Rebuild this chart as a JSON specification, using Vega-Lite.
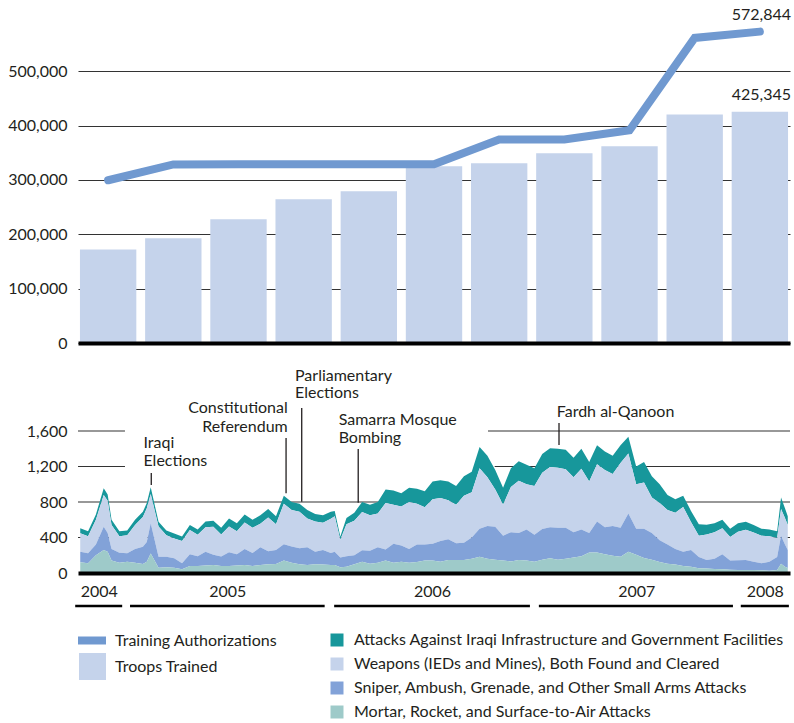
{
  "$schema": "https://vega.github.io/schema/vega-lite/v6.json",
  "padding": {"left": 5, "top": 6, "right": 2, "bottom": 2},
  "background": "white",
  "config": {
    "font": "Lato",
    "view": {"stroke": null},
    "axis": {"labelFont": "Lato", "labelColor": "#231f20", "labelFontSize": 16},
    "legend": {"labelFont": "Lato", "labelColor": "#231f20", "labelFontSize": 16},
    "text": {"font": "Lato", "fontSize": 16, "color": "#231f20"}
  },
  "spacing": 9,
  "vconcat": [
    {
      "width": 712,
      "height": 337,
      "data": {
        "values": [
          {"period": "P1", "troops": 171900, "authorized": 299400},
          {"period": "P2", "troops": 192700, "authorized": 328500},
          {"period": "P3", "troops": 227600, "authorized": 328900},
          {"period": "P4", "troops": 264300, "authorized": 328900},
          {"period": "P5", "troops": 279200, "authorized": 328700},
          {"period": "P6", "troops": 325200, "authorized": 328900},
          {"period": "P7", "troops": 330700, "authorized": 374300},
          {"period": "P8", "troops": 349100, "authorized": 374300},
          {"period": "P9", "troops": 362000, "authorized": 391400},
          {"period": "P10", "troops": 420300, "authorized": 561300},
          {"period": "P11", "troops": 425345, "authorized": 572844}
        ]
      },
      "encoding": {
        "x": {
          "field": "period", "type": "ordinal", "sort": null, "title": null,
          "scale": {"paddingInner": 0.135, "paddingOuter": 0.03},
          "axis": {"title": null, "labels": false, "ticks": false, "tickSize": 0, "grid": false, "domainColor": "#000000", "domainWidth": 4, "zindex": 1}
        }
      },
      "layer": [
        {
          "mark": {"type": "bar"},
          "encoding": {
            "y": {
              "field": "troops", "type": "quantitative", "title": null,
              "scale": {"domain": [0, 620000], "nice": false},
              "axis": {"title": null, "values": [0, 100000, 200000, 300000, 400000, 500000], "labelExpr": "format(datum.value, ',')", "grid": true, "gridColor": "#333333", "gridWidth": 1.2, "domain": false, "ticks": false, "tickSize": 0, "labelPadding": 11, "minExtent": 73, "maxExtent": 73}
            },
            "fill": {
              "datum": "Troops Trained",
              "scale": {"range": ["#c5d3eb"]},
              "legend": {"title": null, "orient": "none", "legendX": 1, "legendY": 647, "symbolType": "square", "symbolSize": 729, "symbolStrokeWidth": 0, "labelOffset": 9, "labelLimit": 0, "padding": 0}
            }
          }
        },
        {
          "mark": {"type": "line", "strokeWidth": 8, "strokeCap": "round", "strokeJoin": "miter"},
          "encoding": {
            "y": {"field": "authorized", "type": "quantitative", "title": null},
            "stroke": {
              "datum": "Training Authorizations",
              "scale": {"range": ["#7099d0"]},
              "legend": {"title": null, "orient": "none", "legendX": -4, "legendY": 616.5, "symbolType": "stroke", "symbolSize": 784, "symbolStrokeWidth": 8, "labelOffset": 5, "labelLimit": 0, "padding": 0}
            }
          }
        },
        {
          "transform": [{"filter": {"field": "period", "equal": "P11"}}],
          "mark": {"type": "text", "align": "right", "baseline": "middle", "dx": 3, "dy": -17},
          "encoding": {
            "x": {"field": "period", "type": "ordinal", "sort": null, "title": null, "bandPosition": 1},
            "y": {"field": "authorized", "type": "quantitative", "title": null},
            "text": {"field": "authorized", "type": "quantitative", "format": ","}
          }
        },
        {
          "transform": [{"filter": {"field": "period", "equal": "P11"}}],
          "mark": {"type": "text", "align": "right", "baseline": "middle", "dx": 3, "dy": -17},
          "encoding": {
            "x": {"field": "period", "type": "ordinal", "sort": null, "title": null, "bandPosition": 1},
            "y": {"field": "troops", "type": "quantitative", "title": null},
            "text": {"field": "troops", "type": "quantitative", "format": ","}
          }
        }
      ]
    },
    {
      "width": 712,
      "height": 213,
      "layer": [
        {
          "data": {
            "values": [
              {"v": 1600, "from": "2004-10-09", "to": "2005-01-01"},
              {"v": 1600, "from": "2006-10-12", "to": "2008-04-04"},
              {"v": 1200, "from": "2004-10-09", "to": "2005-01-01"},
              {"v": 1200, "from": "2006-10-24", "to": "2008-04-04"},
              {"v": 800, "from": "2004-10-09", "to": "2008-04-04"},
              {"v": 400, "from": "2004-10-09", "to": "2008-04-04"}
            ]
          },
          "mark": {"type": "rule", "color": "#333333", "strokeWidth": 1.2},
          "encoding": {
            "x": {"field": "from", "type": "temporal", "title": null},
            "x2": {"field": "to"},
            "y": {"field": "v", "type": "quantitative", "title": null}
          }
        },
        {
          "data": {
            "values": [
              {"d": "2004-10-13", "k1": 56, "k2": 207, "k3": 120, "k4": 120},
              {"d": "2004-10-27", "k1": 55, "k2": 193, "k3": 113, "k4": 109},
              {"d": "2004-11-10", "k1": 60, "k2": 280, "k3": 120, "k4": 200},
              {"d": "2004-11-24", "k1": 75, "k2": 357, "k3": 263, "k4": 259},
              {"d": "2004-12-01", "k1": 70, "k2": 365, "k3": 210, "k4": 240},
              {"d": "2004-12-08", "k1": 60, "k2": 270, "k3": 130, "k4": 140},
              {"d": "2004-12-22", "k1": 55, "k2": 186, "k3": 113, "k4": 116},
              {"d": "2005-01-05", "k1": 55, "k2": 203, "k3": 94, "k4": 128},
              {"d": "2005-01-19", "k1": 60, "k2": 270, "k3": 155, "k4": 115},
              {"d": "2005-02-02", "k1": 60, "k2": 333, "k3": 196, "k4": 101},
              {"d": "2005-02-09", "k1": 60, "k2": 380, "k3": 222, "k4": 128},
              {"d": "2005-02-16", "k1": 75, "k2": 330, "k3": 340, "k4": 220},
              {"d": "2005-03-02", "k1": 55, "k2": 339, "k3": 124, "k4": 60},
              {"d": "2005-03-16", "k1": 55, "k2": 241, "k3": 119, "k4": 65},
              {"d": "2005-03-30", "k1": 55, "k2": 225, "k3": 105, "k4": 60},
              {"d": "2005-04-13", "k1": 50, "k2": 250, "k3": 69, "k4": 41},
              {"d": "2005-04-27", "k1": 55, "k2": 275, "k3": 131, "k4": 79},
              {"d": "2005-05-11", "k1": 60, "k2": 240, "k3": 111, "k4": 79},
              {"d": "2005-05-25", "k1": 65, "k2": 275, "k3": 155, "k4": 85},
              {"d": "2005-06-08", "k1": 70, "k2": 315, "k3": 115, "k4": 90},
              {"d": "2005-06-22", "k1": 75, "k2": 250, "k3": 105, "k4": 80},
              {"d": "2005-07-06", "k1": 90, "k2": 290, "k3": 156, "k4": 79},
              {"d": "2005-07-20", "k1": 90, "k2": 260, "k3": 125, "k4": 85},
              {"d": "2005-08-03", "k1": 90, "k2": 300, "k3": 180, "k4": 90},
              {"d": "2005-08-17", "k1": 90, "k2": 285, "k3": 146, "k4": 79},
              {"d": "2005-08-31", "k1": 95, "k2": 265, "k3": 200, "k4": 90},
              {"d": "2005-09-14", "k1": 95, "k2": 380, "k3": 145, "k4": 100},
              {"d": "2005-09-28", "k1": 90, "k2": 290, "k3": 159, "k4": 101},
              {"d": "2005-10-12", "k1": 90, "k2": 455, "k3": 185, "k4": 140},
              {"d": "2005-10-26", "k1": 90, "k2": 410, "k3": 185, "k4": 115},
              {"d": "2005-11-09", "k1": 90, "k2": 410, "k3": 180, "k4": 100},
              {"d": "2005-11-23", "k1": 95, "k2": 325, "k3": 200, "k4": 90},
              {"d": "2005-12-07", "k1": 85, "k2": 340, "k3": 140, "k4": 100},
              {"d": "2005-12-21", "k1": 85, "k2": 305, "k3": 165, "k4": 95},
              {"d": "2006-01-04", "k1": 80, "k2": 386, "k3": 135, "k4": 90},
              {"d": "2006-01-11", "k1": 60, "k2": 400, "k3": 150, "k4": 90},
              {"d": "2006-01-21", "k1": 35, "k2": 200, "k3": 110, "k4": 65},
              {"d": "2006-02-01", "k1": 70, "k2": 360, "k3": 120, "k4": 70},
              {"d": "2006-02-15", "k1": 90, "k2": 390, "k3": 100, "k4": 100},
              {"d": "2006-03-01", "k1": 113, "k2": 432, "k3": 127, "k4": 128},
              {"d": "2006-03-15", "k1": 120, "k2": 400, "k3": 145, "k4": 105},
              {"d": "2006-03-29", "k1": 130, "k2": 380, "k3": 175, "k4": 115},
              {"d": "2006-04-12", "k1": 150, "k2": 525, "k3": 125, "k4": 140},
              {"d": "2006-04-26", "k1": 160, "k2": 440, "k3": 215, "k4": 115},
              {"d": "2006-05-10", "k1": 150, "k2": 440, "k3": 182, "k4": 128},
              {"d": "2006-05-24", "k1": 160, "k2": 530, "k3": 154, "k4": 116},
              {"d": "2006-06-07", "k1": 170, "k2": 460, "k3": 195, "k4": 125},
              {"d": "2006-06-21", "k1": 180, "k2": 420, "k3": 180, "k4": 140},
              {"d": "2006-07-05", "k1": 200, "k2": 500, "k3": 190, "k4": 140},
              {"d": "2006-07-19", "k1": 200, "k2": 484, "k3": 232, "k4": 128},
              {"d": "2006-08-02", "k1": 210, "k2": 440, "k3": 233, "k4": 147},
              {"d": "2006-08-16", "k1": 210, "k2": 436, "k3": 187, "k4": 147},
              {"d": "2006-08-30", "k1": 220, "k2": 530, "k3": 193, "k4": 147},
              {"d": "2006-09-13", "k1": 230, "k2": 510, "k3": 240, "k4": 160},
              {"d": "2006-09-27", "k1": 240, "k2": 680, "k3": 316, "k4": 184},
              {"d": "2006-10-11", "k1": 240, "k2": 550, "k3": 370, "k4": 160},
              {"d": "2006-10-25", "k1": 220, "k2": 420, "k3": 370, "k4": 150},
              {"d": "2006-11-08", "k1": 190, "k2": 350, "k3": 280, "k4": 140},
              {"d": "2006-11-22", "k1": 210, "k2": 510, "k3": 330, "k4": 130},
              {"d": "2006-12-06", "k1": 220, "k2": 590, "k3": 303, "k4": 147},
              {"d": "2006-12-20", "k1": 220, "k2": 510, "k3": 350, "k4": 140},
              {"d": "2007-01-03", "k1": 200, "k2": 550, "k3": 302, "k4": 128},
              {"d": "2007-01-17", "k1": 210, "k2": 635, "k3": 345, "k4": 150},
              {"d": "2007-01-31", "k1": 210, "k2": 680, "k3": 350, "k4": 165},
              {"d": "2007-02-14", "k1": 215, "k2": 675, "k3": 360, "k4": 150},
              {"d": "2007-02-28", "k1": 220, "k2": 660, "k3": 350, "k4": 160},
              {"d": "2007-03-14", "k1": 220, "k2": 620, "k3": 285, "k4": 175},
              {"d": "2007-03-28", "k1": 225, "k2": 685, "k3": 300, "k4": 190},
              {"d": "2007-04-11", "k1": 220, "k2": 580, "k3": 220, "k4": 230},
              {"d": "2007-04-25", "k1": 215, "k2": 645, "k3": 350, "k4": 230},
              {"d": "2007-05-09", "k1": 210, "k2": 645, "k3": 305, "k4": 210},
              {"d": "2007-05-23", "k1": 205, "k2": 585, "k3": 335, "k4": 195},
              {"d": "2007-06-06", "k1": 200, "k2": 730, "k3": 326, "k4": 184},
              {"d": "2007-06-20", "k1": 190, "k2": 676, "k3": 430, "k4": 240},
              {"d": "2007-07-04", "k1": 200, "k2": 500, "k3": 295, "k4": 205},
              {"d": "2007-07-18", "k1": 230, "k2": 520, "k3": 330, "k4": 170},
              {"d": "2007-08-01", "k1": 240, "k2": 400, "k3": 300, "k4": 150},
              {"d": "2007-08-15", "k1": 210, "k2": 420, "k3": 245, "k4": 125},
              {"d": "2007-08-29", "k1": 170, "k2": 390, "k3": 215, "k4": 105},
              {"d": "2007-09-12", "k1": 150, "k2": 410, "k3": 175, "k4": 95},
              {"d": "2007-09-26", "k1": 125, "k2": 505, "k3": 160, "k4": 80},
              {"d": "2007-10-10", "k1": 125, "k2": 315, "k3": 190, "k4": 70},
              {"d": "2007-10-24", "k1": 130, "k2": 240, "k3": 127, "k4": 53},
              {"d": "2007-11-07", "k1": 110, "k2": 288, "k3": 97, "k4": 50},
              {"d": "2007-11-21", "k1": 100, "k2": 300, "k3": 115, "k4": 45},
              {"d": "2007-12-05", "k1": 95, "k2": 295, "k3": 169, "k4": 41},
              {"d": "2007-12-19", "k1": 95, "k2": 265, "k3": 104, "k4": 36},
              {"d": "2008-01-02", "k1": 95, "k2": 320, "k3": 111, "k4": 34},
              {"d": "2008-01-16", "k1": 90, "k2": 341, "k3": 113, "k4": 34},
              {"d": "2008-01-30", "k1": 85, "k2": 327, "k3": 94, "k4": 34},
              {"d": "2008-02-13", "k1": 80, "k2": 310, "k3": 80, "k4": 30},
              {"d": "2008-02-27", "k1": 75, "k2": 287, "k3": 102, "k4": 26},
              {"d": "2008-03-12", "k1": 75, "k2": 215, "k3": 146, "k4": 34},
              {"d": "2008-03-19", "k1": 130, "k2": 300, "k3": 315, "k4": 105},
              {"d": "2008-03-26", "k1": 110, "k2": 300, "k3": 250, "k4": 70},
              {"d": "2008-03-31", "k1": 100, "k2": 280, "k3": 205, "k4": 55}
            ]
          },
          "transform": [{"fold": ["k1", "k2", "k3", "k4"], "as": ["series", "count"]}],
          "mark": {"type": "area", "opacity": 1, "interpolate": "linear"},
          "encoding": {
            "x": {
              "field": "d", "type": "temporal", "title": null,
              "scale": {"domain": [{"year": 2004, "month": 10, "date": 9}, {"year": 2008, "month": 4, "date": 4}]},
              "axis": {
                "title": null,
                "values": [{"year": 2004, "month": 11, "date": 15}, {"year": 2005, "month": 7, "date": 3}, {"year": 2006, "month": 7, "date": 4}, {"year": 2007, "month": 7, "date": 4}, {"year": 2008, "month": 2, "date": 19}],
                "labelExpr": "timeFormat(datum.value, '%Y')", "ticks": false, "tickSize": 0, "grid": false, "labelPadding": 10,
                "domainColor": "#000000", "domainWidth": 4, "zindex": 1, "labelFlush": false, "labelOverlap": false
              }
            },
            "y": {
              "field": "count", "type": "quantitative", "stack": "zero", "title": null,
              "scale": {"domain": [0, 2400], "nice": false},
              "axis": {"title": null, "values": [0, 400, 800, 1200, 1600], "labelExpr": "format(datum.value, ',')", "grid": false, "domain": false, "ticks": false, "tickSize": 0, "labelPadding": 11, "minExtent": 73, "maxExtent": 73}
            },
            "color": {
              "field": "series", "type": "nominal",
              "scale": {"domain": ["k1", "k2", "k3", "k4"], "range": ["#17979b", "#c5d3eb", "#82a2d8", "#9ecac9"]},
              "legend": {
                "title": null, "orient": "none", "legendX": 251, "legendY": 626,
                "symbolType": "square", "symbolSize": 169, "symbolStrokeWidth": 0, "labelOffset": 9, "rowPadding": 8, "labelLimit": 0, "padding": 0,
                "labelExpr": "datum.label == 'k1' ? 'Attacks Against Iraqi Infrastructure and Government Facilities' : datum.label == 'k2' ? 'Weapons (IEDs and Mines), Both Found and Cleared' : datum.label == 'k3' ? 'Sniper, Ambush, Grenade, and Other Small Arms Attacks' : 'Mortar, Rocket, and Surface-to-Air Attacks'"
              }
            },
            "order": {"field": "series", "sort": "descending"}
          }
        },
        {
          "data": {
            "values": [
              {"d": "2005-02-17", "lo": 992, "hi": 1127},
              {"d": "2005-10-16", "lo": 900, "hi": 1521},
              {"d": "2005-11-13", "lo": 804, "hi": 1860},
              {"d": "2006-02-22", "lo": 792, "hi": 1397},
              {"d": "2007-02-16", "lo": 1443, "hi": 1690}
            ]
          },
          "mark": {"type": "rule", "color": "#231f20", "strokeWidth": 1.3},
          "encoding": {
            "x": {"field": "d", "type": "temporal", "title": null},
            "y": {"field": "lo", "type": "quantitative", "title": null},
            "y2": {"field": "hi"}
          }
        },
        {
          "data": {
            "values": [
              {"d": "2005-02-03", "v": 1462, "t": "Iraqi"},
              {"d": "2005-02-03", "v": 1266, "t": "Elections"},
              {"d": "2005-11-01", "v": 2220, "t": "Parliamentary"},
              {"d": "2005-11-01", "v": 2025, "t": "Elections"},
              {"d": "2006-01-18", "v": 1724, "t": "Samarra Mosque"},
              {"d": "2006-01-18", "v": 1521, "t": "Bombing"},
              {"d": "2007-02-12", "v": 1818, "t": "Fardh al-Qanoon"}
            ]
          },
          "mark": {"type": "text", "align": "left", "baseline": "middle"},
          "encoding": {
            "x": {"field": "d", "type": "temporal", "title": null},
            "y": {"field": "v", "type": "quantitative", "title": null},
            "text": {"field": "t", "type": "nominal"}
          }
        },
        {
          "data": {
            "values": [
              {"d": "2005-10-19", "v": 1856, "t": "Constitutional"},
              {"d": "2005-10-19", "v": 1649, "t": "Referendum"}
            ]
          },
          "mark": {"type": "text", "align": "right", "baseline": "middle"},
          "encoding": {
            "x": {"field": "d", "type": "temporal", "title": null},
            "y": {"field": "v", "type": "quantitative", "title": null},
            "text": {"field": "t", "type": "nominal"}
          }
        },
        {
          "data": {
            "values": [
              {"year": "2004", "from": "2004-10-04", "to": "2004-12-27"},
              {"year": "2005", "from": "2005-01-10", "to": "2005-12-24"},
              {"year": "2006", "from": "2006-01-10", "to": "2006-12-26"},
              {"year": "2007", "from": "2007-01-11", "to": "2007-12-24"},
              {"year": "2008", "from": "2008-01-07", "to": "2008-04-02"}
            ]
          },
          "mark": {"type": "rule", "color": "#000000", "strokeWidth": 2.5},
          "encoding": {
            "x": {"field": "from", "type": "temporal", "title": null},
            "x2": {"field": "to"},
            "y": {"datum": -372}
          }
        }
      ]
    }
  ]
}
